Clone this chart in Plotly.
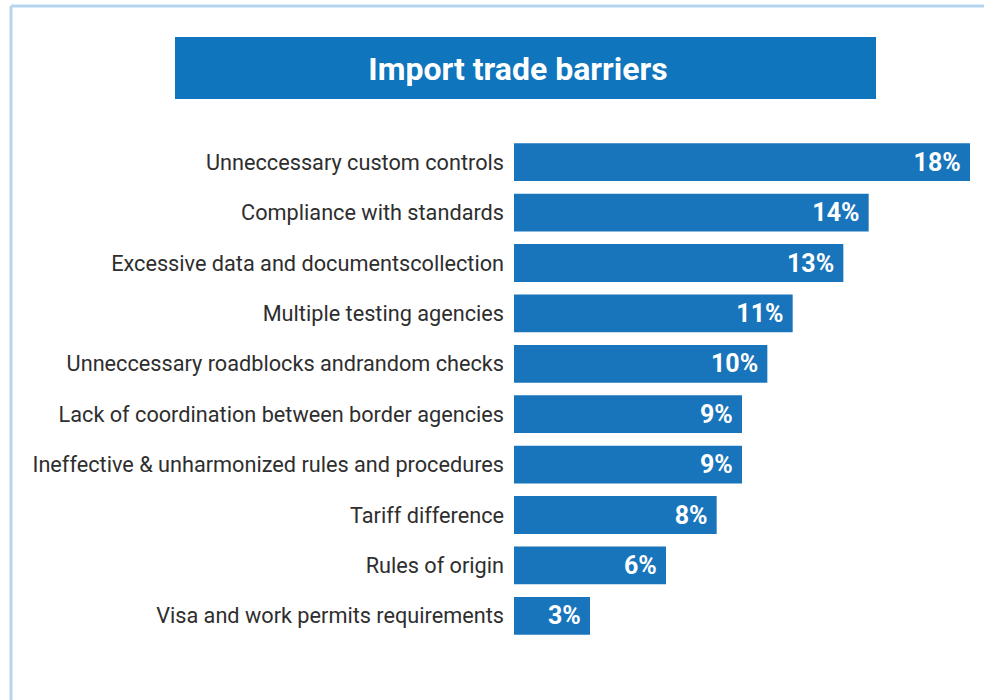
import plotly.graph_objects as go

categories = [
    "Unneccessary custom controls",
    "Compliance with standards",
    "Excessive data and documentscollection",
    "Multiple testing agencies",
    "Unneccessary roadblocks andrandom checks",
    "Lack of coordination between border agencies",
    "Ineffective & unharmonized rules and procedures",
    "Tariff difference",
    "Rules of origin",
    "Visa and work permits requirements",
]
values = [18, 14, 13, 11, 10, 9, 9, 8, 6, 3]
value_labels = [f"{v}%\u00a0" for v in values]
title_text = "Import trade barriers"

BAR = "#1874bb"
TITLE_BG = "#0f75bd"
BORDER = "#b5d5ee"

# plot area geometry (pixels) used for paper-coordinate conversions
L, R, T, B = 514, 970, 137, 641
W, H = R - L, B - T

def px(x):
    return (x - L) / W

def py(y):
    return (B - y) / H

fig = go.Figure(
    go.Bar(
        x=values,
        y=categories,
        orientation="h",
        marker=dict(color=BAR, line=dict(width=0)),
        text=value_labels,
        textposition="inside",
        insidetextanchor="end",
        textfont=dict(family="Roboto", size=25, color="white", weight="bold"),
        cliponaxis=False,
    )
)

fig.update_layout(
    width=984,
    height=700,
    margin=dict(l=L, r=984 - R, t=T, b=700 - B),
    paper_bgcolor="white",
    plot_bgcolor="white",
    showlegend=False,
    bargap=0.25,
    title=dict(
        text=f"<b>{title_text}</b>",
        x=518 / 984,
        xanchor="center",
        y=1 - 69 / 700,
        yanchor="middle",
        font=dict(family="Roboto", size=32, color="white"),
    ),
    xaxis=dict(range=[0, 18], visible=False, fixedrange=True),
    yaxis=dict(
        autorange="reversed",
        showgrid=False,
        showline=False,
        zeroline=False,
        ticks="",
        ticklabelstandoff=9,
        tickfont=dict(family="Roboto", size=21.7, color="#2e2e2e"),
        fixedrange=True,
    ),
    shapes=[
        dict(type="rect", xref="paper", yref="paper",
             x0=px(175), x1=px(876), y0=py(99), y1=py(37),
             fillcolor=TITLE_BG, line=dict(width=0), layer="below"),
        dict(type="line", xref="paper", yref="paper",
             x0=px(11), x1=px(11), y0=py(6), y1=py(705),
             line=dict(color=BORDER, width=3)),
        dict(type="line", xref="paper", yref="paper",
             x0=px(11), x1=px(990), y0=py(6), y1=py(6),
             line=dict(color=BORDER, width=3)),
    ],
)

fig.write_html(
    "out.html",
    config={"displayModeBar": False},
    post_script="document.body.style.margin='0';document.body.style.overflow='hidden';",
)
